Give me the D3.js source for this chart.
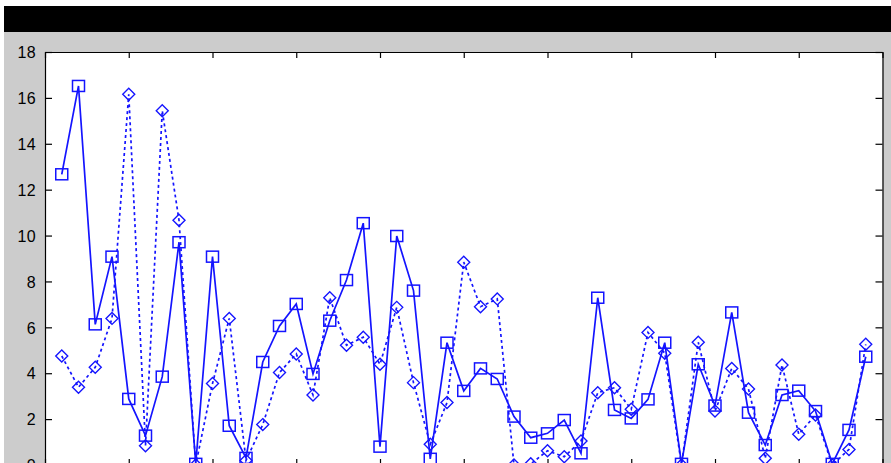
<!DOCTYPE html>
<html>
<head>
<meta charset="utf-8">
<script src="https://cdn.jsdelivr.net/npm/d3@7"></script>
<style>
	body { margin: 0; background: #ffffff; overflow: hidden; }
	svg { display: block; }
	.tick text { font-family: "Liberation Sans", Arial, sans-serif; font-size: 16px; fill: #000; }
</style>
</head>
<body>
<svg class="chartSvg" width="891" height="463"></svg>
<script>
// sample index along the x axis
var xValues = [1, 2, 3, 4, 5, 6, 7, 8, 9, 10, 11, 12, 13, 14, 15, 16, 17, 18, 19, 20,
	21, 22, 23, 24, 25, 26, 27, 28, 29, 30, 31, 32, 33, 34, 35, 36, 37, 38, 39, 40,
	41, 42, 43, 44, 45, 46, 47, 48, 49];

// solid line, square markers
var solidValues = [12.67, 16.52, 6.13, 9.08, 2.88, 1.28, 3.85, 9.71, 0.05, 9.08,
	1.71, 0.31, 4.49, 6.06, 7.02, 3.97, 6.29, 8.06, 10.54, 0.80,
	9.98, 7.60, 0.27, 5.33, 3.23, 4.21, 3.75, 2.11, 1.19, 1.38,
	1.96, 0.51, 7.29, 2.40, 2.03, 2.86, 5.33, 0.05, 4.39, 2.59,
	6.65, 2.28, 0.87, 3.05, 3.24, 2.35, 0.05, 1.53, 4.72];

// dotted line, diamond markers
var dottedValues = [4.75, 3.39, 4.26, 6.39, 16.16, 0.84, 15.44, 10.67, 0.0, 3.55,
	6.39, 0.20, 1.76, 4.03, 4.84, 3.05, 7.29, 5.22, 5.57, 4.39,
	6.87, 3.59, 0.90, 2.72, 8.84, 6.90, 7.24, 0.0, 0.05, 0.62,
	0.36, 1.05, 3.15, 3.37, 2.43, 5.78, 4.87, 0.0, 5.35, 2.35,
	4.21, 3.31, 0.29, 4.36, 1.34, 2.18, 0.0, 0.68, 5.26];

var xTicks = [0, 5, 10, 15, 20, 25, 30, 35, 40, 45, 50];
var yTicks = [0, 2, 4, 6, 8, 10, 12, 14, 16, 18];

var svg = d3.select(".chartSvg"),
	width = 891,
	height = 463,
	plotLeft = 45,
	plotRight = 882.5,
	plotTop = 52,
	plotBottom = 465,
	blue = "#1414ff";

// figure window: white edge, black title strip, grey background
svg.append("rect").attr("width", width).attr("height", height).attr("fill", "#ffffff");
svg.append("rect").attr("x", 4).attr("y", 6).attr("width", width - 4).attr("height", height - 6).attr("fill", "#cccccc");
svg.append("rect").attr("x", 4).attr("y", 6).attr("width", width - 4).attr("height", 26).attr("fill", "#000000");
svg.append("rect").attr("x", plotLeft).attr("y", plotTop).attr("width", plotRight - plotLeft).attr("height", plotBottom - plotTop).attr("fill", "#ffffff");

var x = d3.scaleLinear().domain([0, 50]).range([plotLeft, plotRight]);
var y = d3.scaleLinear().domain([0, 18]).range([plotBottom, plotTop]);

function styleAxis(g) {
	g.select(".domain").attr("stroke", "#000").attr("stroke-width", 1.2);
	g.selectAll(".tick line").attr("stroke", "#000").attr("stroke-width", 1.2);
}

// ticks point inward, like the original
svg.append("g")
	.attr("transform", "translate(" + plotLeft + ",0)")
	.call(d3.axisLeft(y).tickValues(yTicks).tickSizeInner(-7).tickSizeOuter(0).tickPadding(9))
	.call(styleAxis)
	.selectAll("text").attr("dy", "0.36em").attr("letter-spacing", "0.4px");

svg.append("g")
	.attr("transform", "translate(" + plotRight + ",0)")
	.call(d3.axisRight(y).tickValues(yTicks).tickSizeInner(-7).tickSizeOuter(0).tickFormat(""))
	.call(styleAxis);

svg.append("g")
	.attr("transform", "translate(0," + plotTop + ")")
	.call(d3.axisTop(x).tickValues(xTicks).tickSizeInner(-6).tickSizeOuter(0).tickFormat(""))
	.call(styleAxis);

svg.append("g")
	.attr("transform", "translate(0," + plotBottom + ")")
	.call(d3.axisBottom(x).tickValues(xTicks).tickSizeInner(-6).tickSizeOuter(0).tickFormat(""))
	.call(styleAxis);

function pointsOf(values) {
	return values.map(function (v, i) { return { x: xValues[i], y: v }; });
}

var line = d3.line()
	.x(function (d) { return x(d.x); })
	.y(function (d) { return y(d.y); });

var solid = pointsOf(solidValues),
	dotted = pointsOf(dottedValues);

svg.append("path")
	.datum(dotted)
	.attr("fill", "none")
	.attr("stroke", blue)
	.attr("stroke-width", 1.7)
	.attr("stroke-dasharray", "3,3")
	.attr("d", line);

svg.append("path")
	.datum(solid)
	.attr("fill", "none")
	.attr("stroke", blue)
	.attr("stroke-width", 1.7)
	.attr("d", line);

svg.append("g")
	.selectAll("path")
	.data(dotted)
	.enter().append("path")
	.attr("fill", "none")
	.attr("stroke", blue)
	.attr("stroke-width", 1.4)
	.attr("d", function (d) {
		var cx = x(d.x), cy = y(d.y), r = 6;
		return "M" + cx + "," + (cy - r) + "L" + (cx + r) + "," + cy + "L" + cx + "," + (cy + r) + "L" + (cx - r) + "," + cy + "Z";
	});

svg.append("g")
	.selectAll("rect")
	.data(solid)
	.enter().append("rect")
	.attr("fill", "none")
	.attr("stroke", blue)
	.attr("stroke-width", 1.5)
	.attr("x", function (d) { return x(d.x) - 6; })
	.attr("y", function (d) { return y(d.y) - 5.5; })
	.attr("width", 12)
	.attr("height", 11);
</script>
</body>
</html>
